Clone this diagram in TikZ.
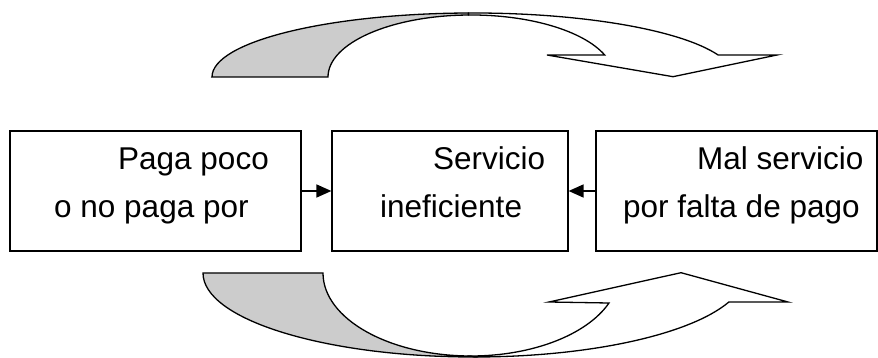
\documentclass[tikz,border=0pt]{standalone}
\usepackage{fontspec}
\setmainfont{Liberation Sans}
\usetikzlibrary{arrows.meta}
\definecolor{shade}{RGB}{204,204,204}
\begin{document}
\begin{tikzpicture}[x=1pt,y=1pt,
  box/.style={draw=black,line width=1.2pt,rectangle,inner sep=0pt,minimum height=120pt},
  txt/.style={inner sep=0pt,anchor=base west,font=\fontsize{31.5}{38}\selectfont},
  conn/.style={line width=1.5pt,-{Triangle[length=15pt,width=13pt]}},
  arrowline/.style={draw=black,line width=1.3pt,line join=miter},
  backpart/.style={arrowline,fill=shade},
  frontpart/.style={arrowline,fill=white}]
\useasboundingbox (0,0) rectangle (878,358);

% boxes
\node[box,minimum width=291pt] (b1) at (155.5,167) {};
\node[box,minimum width=236pt] (b2) at (450,167) {};
\node[box,minimum width=281pt] (b3) at (736.5,167) {};

% texts
\node[txt] (t1a) at (118,188) {Paga poco};
\node[txt] (t1b) at (54,140) {o no paga por};
\node[txt] (t2a) at (433,188) {Servicio};
\node[txt] (t2b) at (380,140) {ineficiente};
\node[txt] (t3a) at (697,188) {Mal servicio};
\node[txt] (t3b) at (623,140) {por falta de pago};

% connectors
\draw[conn] (b1.east) -- (b2.west);
\draw[conn] (b3.west) -- (b2.east);

% top curved arrow
\coordinate (tbl) at (212,281);
\coordinate (tbr) at (328,281);
\coordinate (tinapex) at (468.5,343);
\coordinate (toutapex) at (468.45,345);
\coordinate (tinend) at (604.7,303);
\coordinate (tlb) at (547,303);
\coordinate (ttip) at (673,281.3);
\coordinate (trb) at (777,303);
\coordinate (toutend) at (718.1,303);
\draw[backpart] (tbl) -- (tbr) arc[start angle=180,end angle=91,x radius=143,y radius=62]
  -- (toutapex) arc[start angle=91,end angle=180,x radius=261,y radius=64] -- cycle;
\draw[frontpart] (tinapex) arc[start angle=91,end angle=20.8,x radius=143,y radius=62]
  -- (tlb) -- (ttip) -- (trb) -- (toutend)
  arc[start angle=20.1,end angle=91,x radius=261,y radius=64] -- cycle;

% bottom curved arrow
\coordinate (bbl) at (203,85);
\coordinate (bbr) at (323,85);
\coordinate (binapex) at (471,2);
\coordinate (boutapex) at (474.3,1);
\coordinate (blb) at (549,56);
\coordinate (btip) at (681,85.3);
\coordinate (brb) at (788,56);
\coordinate (boutend) at (728.9,56);
\draw[backpart] (bbl) -- (bbr) arc[start angle=180,end angle=270,x radius=148,y radius=83]
  -- (boutapex) arc[start angle=270,end angle=180,x radius=271.3,y radius=84] -- cycle;
\draw[frontpart] (binapex) arc[start angle=270,end angle=338.8,x radius=148,y radius=83]
  -- (blb) -- (btip) -- (brb) -- (boutend)
  arc[start angle=339.8,end angle=270,x radius=271.3,y radius=84] -- cycle;
\end{tikzpicture}
\end{document}
